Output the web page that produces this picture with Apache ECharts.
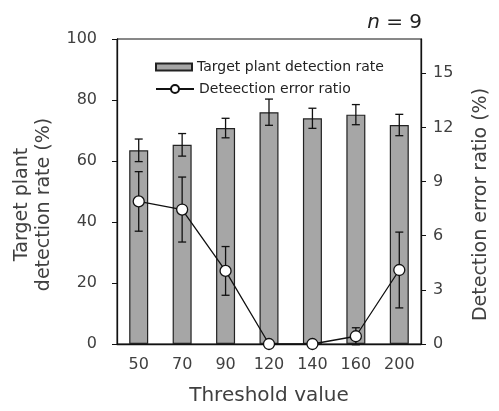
<!DOCTYPE html>
<html>
<head>
<meta charset="utf-8">
<script src="https://cdn.jsdelivr.net/npm/echarts@6/dist/echarts.min.js"></script>
<style>html,body{margin:0;padding:0;background:#fff}#c{width:499px;height:411px}</style>
</head>
<body>
<div id="c"></div>
<script>
const categories = ['50', '70', '90', '120', '140', '160', '200'];
const detectionRate = [63.5, 65.3, 70.8, 76.0, 74.0, 75.2, 71.8];
const detectionRateErr = [3.7, 3.7, 3.2, 4.3, 3.3, 3.3, 3.5];
const errorRatio = [7.9, 7.45, 4.05, 0, 0, 0.43, 4.1];
const errorRatioErr = [1.65, 1.8, 1.35, 0, 0, 0.47, 2.1];
const leftTicks = [0, 20, 40, 60, 80, 100];
const rightTicks = [0, 3, 6, 9, 12, 15];

const FONT = 'DejaVu Sans';
const TXT = '#404040';

function errRender(vals, errs) {
  return function (params, api) {
    const i = api.value(0);
    const v = vals[i], e = errs[i];
    if (!e) return null;
    const top = api.coord([i, v + e]);
    const bot = api.coord([i, v - e]);
    const cap = 4;
    const style = { stroke: '#111', lineWidth: 1.3 };
    return {
      type: 'group',
      children: [
        { type: 'line', shape: { x1: top[0], y1: top[1], x2: bot[0], y2: bot[1] }, style },
        { type: 'line', shape: { x1: top[0] - cap, y1: top[1], x2: top[0] + cap, y2: top[1] }, style },
        { type: 'line', shape: { x1: bot[0] - cap, y1: bot[1], x2: bot[0] + cap, y2: bot[1] }, style }
      ]
    };
  };
}

const chart = echarts.init(document.getElementById('c'), null, { renderer: 'canvas' });
chart.setOption({
  animation: false,
  textStyle: { fontFamily: FONT, color: TXT },
  title: {
    text: '{i|n} = 9',
    right: 72, top: 8,
    textStyle: {
      fontFamily: FONT, fontSize: 20, fontWeight: 'normal', color: '#222',
      rich: { i: { fontFamily: FONT, fontSize: 20, fontStyle: 'italic', color: '#222' } }
    }
  },
  legend: [
    {
      data: [{ name: 'Target plant detection rate', icon: 'rect' }],
      left: 150, top: 55, itemWidth: 36, itemHeight: 7, itemGap: 5,
      textStyle: { fontFamily: FONT, fontSize: 14, color: '#222' }
    },
    {
      data: ['Deteection error ratio'],
      left: 150, top: 77, itemWidth: 38, itemHeight: 10,
      textStyle: { fontFamily: FONT, fontSize: 14, color: '#222' }
    }
  ],
  grid: { left: 117, right: 74, top: 39, bottom: 66, show: true, borderColor: '#111', borderWidth: 1 },
  xAxis: {
    type: 'category', data: categories,
    name: 'Threshold value', nameLocation: 'middle', nameGap: 42,
    nameTextStyle: { fontFamily: FONT, fontSize: 20, color: TXT },
    axisLine: { lineStyle: { color: '#111', width: 1.3 } },
    axisTick: { length: 5, lineStyle: { color: '#111' } },
    axisLabel: { margin: 13, fontSize: 16, color: TXT, fontFamily: FONT }
  },
  yAxis: [
    {
      type: 'value', min: 0, max: 100, interval: 20,
      name: 'Target plant\ndetection rate (%)', nameLocation: 'middle', nameGap: 60, nameRotate: 90,
      nameTextStyle: { fontFamily: FONT, fontSize: 19, color: TXT, lineHeight: 22, padding: [0, 26, 0, 0] },
      axisLine: { show: true, lineStyle: { color: '#111', width: 1.3 } },
      axisTick: { show: true, length: 5, lineStyle: { color: '#111' } },
      axisLabel: { margin: 20, fontSize: 16, color: TXT, fontFamily: FONT },
      splitLine: { show: false }
    },
    {
      type: 'value', min: 0, max: 16.9, interval: 3,
      name: 'Detection error ratio (%)', nameLocation: 'middle', nameGap: 51, nameRotate: 90,
      nameTextStyle: { fontFamily: FONT, fontSize: 19, color: TXT, padding: [0, 26, 0, 0] },
      axisLine: { show: true, lineStyle: { color: '#111', width: 1.3 } },
      axisTick: { show: true, length: 5, lineStyle: { color: '#111' }, customValues: rightTicks },
      axisLabel: { margin: 12, fontSize: 16, color: TXT, fontFamily: FONT, customValues: rightTicks },
      splitLine: { show: false }
    }
  ],
  series: [
    {
      name: 'Target plant detection rate', type: 'bar', yAxisIndex: 0,
      data: detectionRate, barWidth: 19,
      itemStyle: { color: '#a6a6a6', borderColor: '#222', borderWidth: 1.2 },
      z: 2
    },
    {
      type: 'custom', yAxisIndex: 0,
      data: categories.map((c, i) => [i]),
      renderItem: errRender(detectionRate, detectionRateErr),
      z: 3, silent: true
    },
    {
      type: 'custom', yAxisIndex: 1,
      data: categories.map((c, i) => [i]),
      renderItem: errRender(errorRatio, errorRatioErr),
      z: 4, silent: true
    },
    {
      name: 'Deteection error ratio', type: 'line', yAxisIndex: 1,
      data: errorRatio, symbol: 'circle', symbolSize: 11,
      lineStyle: { color: '#111', width: 1.3 },
      itemStyle: { color: '#fff', borderColor: '#111', borderWidth: 1.3 },
      z: 5
    }
  ]
});
</script>
</body>
</html>
